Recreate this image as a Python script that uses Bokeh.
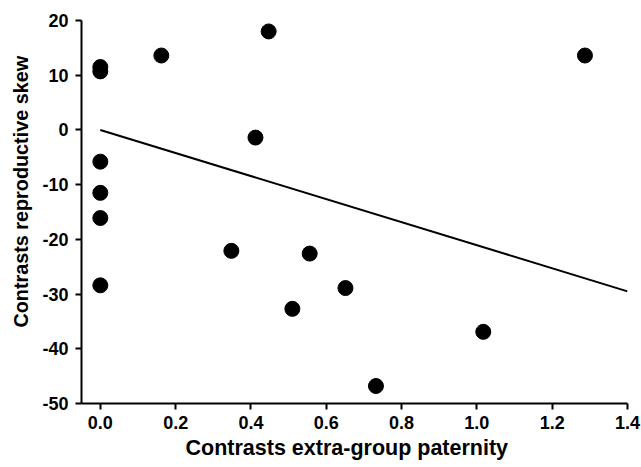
from bokeh.plotting import figure
from bokeh.models import Range1d, FixedTicker, Title
from bokeh.embed import file_html
from bokeh.resources import INLINE

# Data
egp = [0.0, 0.0, 0.0, 0.0, 0.0, 0.0, 0.162, 0.447, 0.412, 0.348, 0.556, 0.510, 0.651, 0.732, 1.017, 1.287]
skew = [11.5, 10.7, -5.8, -11.5, -16.1, -28.4, 13.6, 18.0, -1.4, -22.1, -22.6, -32.7, -28.9, -46.8, -36.9, 13.6]

fit_x = [0.0, 1.4]
fit_y = [0.0, -29.5]

x_ticks = [0.0, 0.2, 0.4, 0.6, 0.8, 1.0, 1.2, 1.4]
y_ticks = [-50, -40, -30, -20, -10, 0, 10, 20]

x_label = "Contrasts extra-group paternity"
y_label = "Contrasts reproductive skew"

p = figure(width=641, height=467, output_backend="svg", toolbar_location=None,
           x_range=Range1d(-0.05, 1.4), y_range=Range1d(-50, 20),
           min_border_left=81, min_border_right=14, min_border_top=20, min_border_bottom=64)
p.outline_line_color = None
p.grid.visible = False
p.background_fill_color = "white"
p.border_fill_color = "white"

p.line(fit_x, fit_y, line_color="black", line_width=2)
p.scatter(egp, skew, size=15, fill_color="black", line_color="black")

font = "Liberation Sans"
for ax in (p.xaxis[0], p.yaxis[0]):
    ax.axis_line_width = 2
    ax.major_tick_line_width = 2
    ax.major_tick_in = 0
    ax.major_tick_out = 6
    ax.minor_tick_line_color = None
    ax.major_label_text_font = font
    ax.major_label_text_font_style = "bold"
    ax.major_label_text_font_size = "18px"
    ax.major_label_text_color = "black"
    ax.major_label_standoff = 7
p.xaxis.major_label_standoff = 6

p.xaxis.ticker = FixedTicker(ticks=x_ticks)
p.yaxis.ticker = FixedTicker(ticks=y_ticks)
p.xaxis.major_label_overrides = {t: f"{t:.1f}" for t in x_ticks}
p.yaxis.major_label_overrides = {t: f"{t:d}" for t in y_ticks}

p.add_layout(Title(text=x_label, align="left", offset=104, standoff=8,
                   vertical_align="top",
                   text_font=font, text_font_style="bold", text_font_size="21.5px",
                   text_color="black"), "below")
p.add_layout(Title(text=y_label, align="left", offset=76, standoff=14,
                   vertical_align="middle",
                   text_font=font, text_font_style="bold", text_font_size="19.8px",
                   text_color="black"), "left")

open("out.html", "w").write(file_html(p, INLINE))
